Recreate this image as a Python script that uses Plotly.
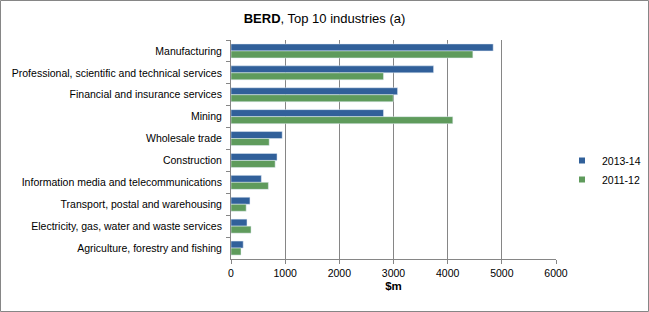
import plotly.graph_objects as go

industries = [
    "Manufacturing",
    "Professional, scientific and technical services",
    "Financial and insurance services",
    "Mining",
    "Wholesale trade",
    "Construction",
    "Information media and telecommunications",
    "Transport, postal and warehousing",
    "Electricity, gas, water and waste services",
    "Agriculture, forestry and fishing",
]
berd_2013_14 = [4840, 3740, 3075, 2815, 945, 850, 560, 350, 295, 225]
berd_2011_12 = [4465, 2815, 2995, 4095, 705, 815, 690, 280, 370, 185]
years = ["2013-14", "2011-12"]

BLUE = "#31609A"
GREEN = "#5F9B5C"
GREY = "#868686"
FONT = "Liberation Sans, Arial, sans-serif"

fig = go.Figure()
for name, vals, col in zip(years, [berd_2013_14, berd_2011_12], [BLUE, GREEN]):
    fig.add_trace(go.Bar(y=industries, x=vals, name=name, orientation="h",
                         marker_color=col, showlegend=False))
# small square legend keys, like the original
for name, col in zip(years, [BLUE, GREEN]):
    fig.add_trace(go.Scatter(x=[None], y=[None], mode="markers", name=name,
                             marker=dict(symbol="square", size=6, color=col)))

# plot area in pixels: x 231..556, y 40..259
L, R, T, B = 231, 93, 40, 53
W, H = 649, 312
pw, ph = W - L - R, H - T - B

fig.update_layout(
    width=W, height=H,
    margin=dict(l=L, r=R, t=T, b=B, autoexpand=False),
    paper_bgcolor="white", plot_bgcolor="white",
    font=dict(family=FONT, size=10.5, color="black"),
    title=dict(text="<b>BERD</b>, Top 10 industries (a)", x=0.5,
               xref="container", xanchor="center", y=1 - 18 / H,
               yanchor="middle", font=dict(size=13)),
    barmode="group", bargap=0.36, bargroupgap=0,
    showlegend=True,
    legend=dict(x=(562 - L) / pw, y=(H - B - 170) / ph, xanchor="left",
                yanchor="middle", font=dict(size=10.5), itemwidth=30,
                tracegroupgap=0, bgcolor="rgba(0,0,0,0)"),
    xaxis=dict(range=[0, 6000], dtick=1000, showgrid=True, gridcolor=GREY,
               gridwidth=1, zeroline=False, showline=True, linecolor=GREY,
               ticks="outside", ticklen=4, tickcolor=GREY, automargin=False,
               title=dict(text="<b>$m</b>", font=dict(size=11.5), standoff=4)),
    yaxis=dict(autorange="reversed", showline=True, linecolor=GREY,
               ticks="outside", ticklen=4, tickcolor=GREY, automargin=False,
               tickson="boundaries", showgrid=False, ticklabelstandoff=6),
    shapes=[dict(type="rect", xref="paper", yref="paper",
                 x0=(0.5 - L) / pw, x1=(W - 0.5 - L) / pw,
                 y0=(H - B - (H - 0.5)) / ph, y1=(H - B - 0.5) / ph,
                 line=dict(color=GREY, width=1), layer="below")],
)

fig.write_html("out.html", config={"displayModeBar": False},
               post_script="document.body.style.margin='0';")
